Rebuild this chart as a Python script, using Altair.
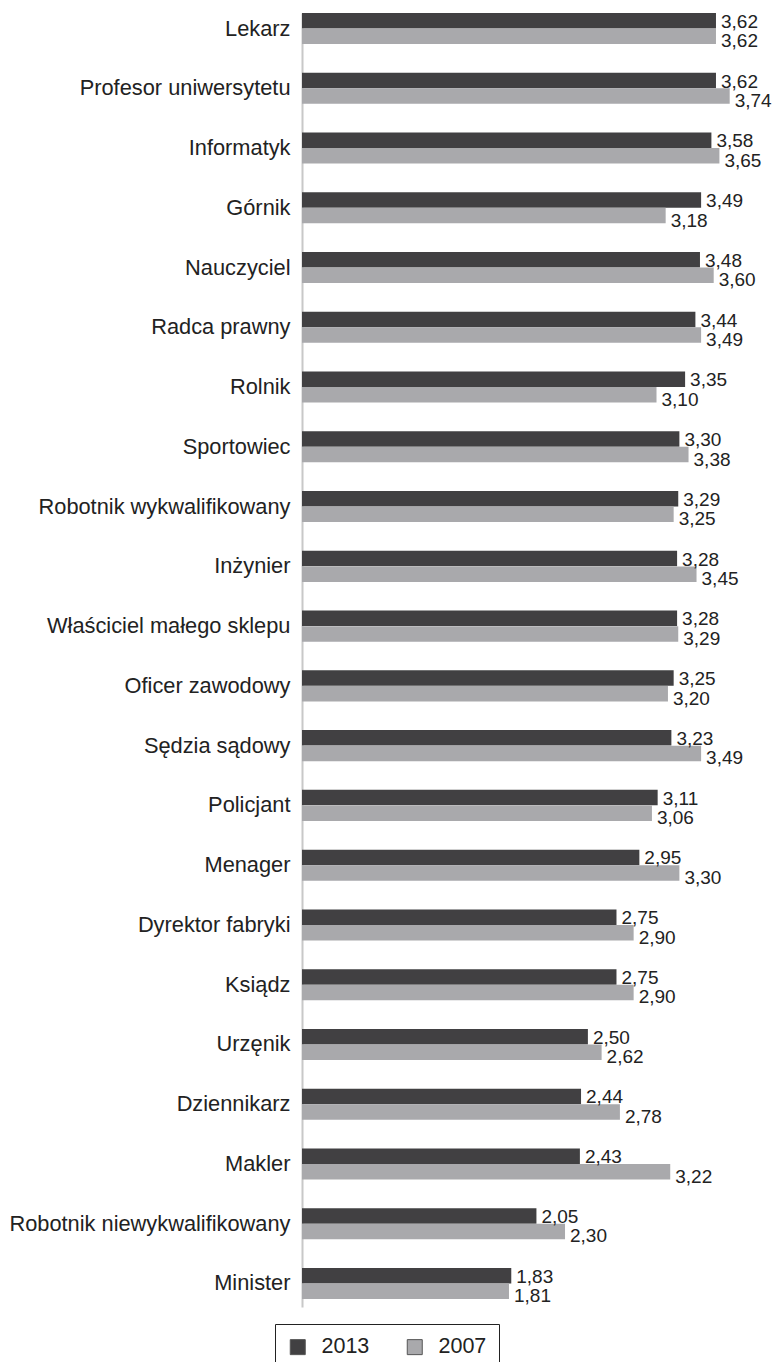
import altair as alt
import pandas as pd

categories = [
    "Lekarz", "Profesor uniwersytetu", "Informatyk", "Górnik", "Nauczyciel",
    "Radca prawny", "Rolnik", "Sportowiec", "Robotnik wykwalifikowany",
    "Inżynier", "Właściciel małego sklepu", "Oficer zawodowy", "Sędzia sądowy",
    "Policjant", "Menager", "Dyrektor fabryki", "Ksiądz", "Urzęnik",
    "Dziennikarz", "Makler", "Robotnik niewykwalifikowany", "Minister",
]
values_2013 = [3.62, 3.62, 3.58, 3.49, 3.48, 3.44, 3.35, 3.30, 3.29, 3.28, 3.28,
               3.25, 3.23, 3.11, 2.95, 2.75, 2.75, 2.50, 2.44, 2.43, 2.05, 1.83]
values_2007 = [3.62, 3.74, 3.65, 3.18, 3.60, 3.49, 3.10, 3.38, 3.25, 3.45, 3.29,
               3.20, 3.49, 3.06, 3.30, 2.90, 2.90, 2.62, 2.78, 3.22, 2.30, 1.81]
series = ["2013", "2007"]
colors = ["#414042", "#a9a9ac"]

rows = []
for c, a, b in zip(categories, values_2013, values_2007):
    rows.append({"kat": c, "rok": "2013", "v": a, "lab": f"{a:.2f}".replace(".", ",")})
    rows.append({"kat": c, "rok": "2007", "v": b, "lab": f"{b:.2f}".replace(".", ",")})
df = pd.DataFrame(rows)

FONT = "Liberation Sans"

y_enc = alt.Y(
    "kat:N", sort=categories, title=None,
    scale=alt.Scale(paddingInner=0.48, paddingOuter=0.067, align=0),
    axis=alt.Axis(ticks=False, domainColor="#c8c8c8", domainWidth=2,
                  labelPadding=12, labelFontSize=21.8, labelColor="#222222",
                  labelFont=FONT, labelLimit=500),
)
yoff = alt.YOffset("rok:N", sort=series, scale=alt.Scale(paddingInner=0, paddingOuter=0))
x_enc = alt.X("v:Q", scale=alt.Scale(domain=[0, 3.9], nice=False), axis=None)

base = alt.Chart(df)

bars = base.mark_bar(size=15.5).encode(
    x=x_enc, y=y_enc, yOffset=yoff,
    color=alt.Color(
        "rok:N", sort=series,
        scale=alt.Scale(domain=series, range=colors),
        legend=alt.Legend(
            title=None, orient="none", direction="horizontal",
            legendX=-27, legendY=1311,
            symbolType="square", symbolSize=225, symbolStrokeColor="#555555",
            symbolStrokeWidth=1, symbolOpacity=1,
            labelFontSize=21.5, labelFont=FONT, labelColor="#222222",
            labelOffset=13, columnPadding=34,
            strokeColor="#222222", padding=12,
        ),
    ),
)

text_2013 = base.transform_filter(alt.datum.rok == "2013").mark_text(
    align="left", baseline="middle", dx=5, dy=1, fontSize=19, font=FONT, color="#222222"
).encode(x=x_enc, y=y_enc, yOffset=yoff, text="lab:N")

text_2007 = base.transform_filter(alt.datum.rok == "2007").mark_text(
    align="left", baseline="middle", dx=5, dy=5, fontSize=19, font=FONT, color="#222222"
).encode(x=x_enc, y=y_enc, yOffset=yoff, text="lab:N")

chart = (bars + text_2013 + text_2007).properties(
    width=446, height=1294,
    padding={"top": 4, "left": 0, "right": 0, "bottom": 5},
).configure(font=FONT).configure_view(stroke=None)

chart.save("out.html", embed_options={"renderer": "svg", "actions": False})
